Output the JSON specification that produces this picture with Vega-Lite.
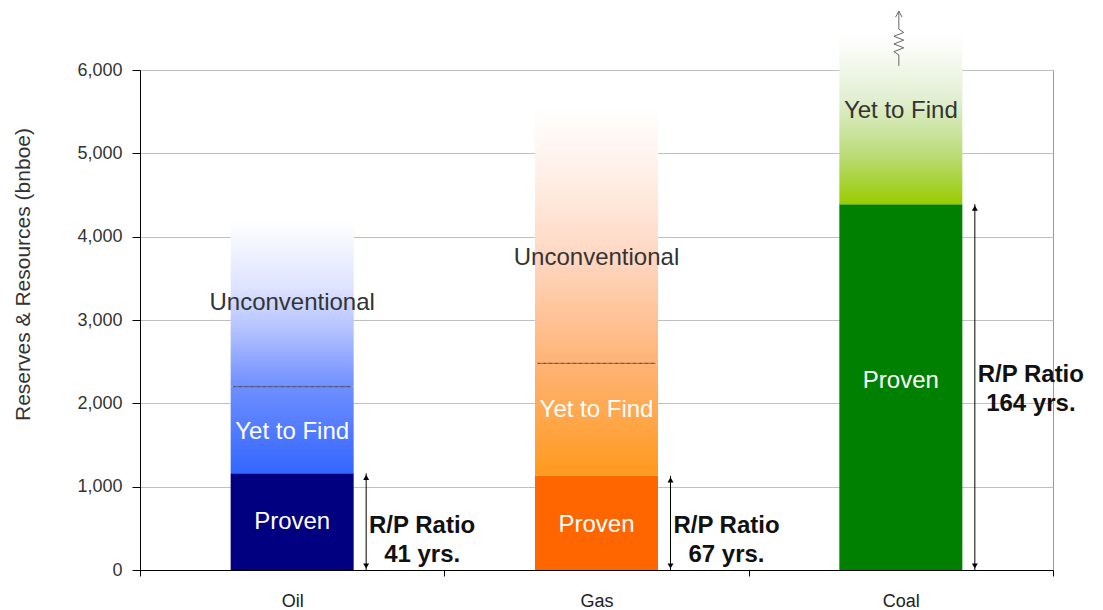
{
  "$schema": "https://vega.github.io/schema/vega-lite/v6.json",
  "width": 913,
  "height": 500,
  "autosize": {"type": "none"},
  "padding": {"left": 140, "top": 70, "right": 50, "bottom": 40},
  "background": "white",
  "config": {
    "font": "Liberation Sans",
    "view": {"stroke": "#999999", "strokeWidth": 1}
  },
  "datasets": {
    "bars": [
      {"fuel": "Oil", "part": "Proven", "lo": 0, "hi": 1160},
      {"fuel": "Oil", "part": "Yet to Find", "lo": 1160, "hi": 2200},
      {"fuel": "Oil", "part": "Unconventional", "lo": 2200, "hi": 4180},
      {"fuel": "Gas", "part": "Proven", "lo": 0, "hi": 1130},
      {"fuel": "Gas", "part": "Yet to Find", "lo": 1130, "hi": 2480},
      {"fuel": "Gas", "part": "Unconventional", "lo": 2480, "hi": 5550},
      {"fuel": "Coal", "part": "Proven", "lo": 0, "hi": 4390},
      {"fuel": "Coal", "part": "Yet to Find", "lo": 4390, "hi": 6450}
    ],
    "labels": [
      {"fuel": "Oil", "label": "Unconventional", "at": 3204},
      {"fuel": "Oil", "label": "Yet to Find", "at": 1656},
      {"fuel": "Oil", "label": "Proven", "at": 576},
      {"fuel": "Gas", "label": "Unconventional", "at": 3744},
      {"fuel": "Gas", "label": "Yet to Find", "at": 1920},
      {"fuel": "Gas", "label": "Proven", "at": 540},
      {"fuel": "Coal", "label": "Yet to Find", "at": 5508},
      {"fuel": "Coal", "label": "Proven", "at": 2268}
    ],
    "rp": [
      {"fuel": "Oil", "text": "R/P Ratio\n41 yrs.", "at": 534},
      {"fuel": "Gas", "text": "R/P Ratio\n67 yrs.", "at": 534},
      {"fuel": "Coal", "text": "R/P Ratio\n164 yrs.", "at": 2346}
    ]
  },
  "encoding": {
    "x": {
      "field": "fuel",
      "type": "nominal",
      "sort": ["Oil", "Gas", "Coal"],
      "scale": {"paddingInner": 0, "paddingOuter": 0},
      "axis": {
        "title": null,
        "labelAngle": 0,
        "labelFontSize": 18,
        "labelColor": "#222222",
        "labelPadding": 16,
        "tickSize": 6,
        "tickBand": "extent",
        "tickColor": "#000000",
        "domainColor": "#000000",
        "grid": false
      }
    }
  },
  "layer": [
    {
      "data": {"name": "bars"},
      "transform": [{"filter": "datum.part === 'Proven'"}],
      "mark": {"type": "bar", "size": 123},
      "encoding": {
        "y": {
          "field": "hi", "type": "quantitative",
          "scale": {"domain": [0, 6000], "nice": false},
          "title": "Reserves & Resources (bnboe)",
          "axis": {
            "values": [0, 1000, 2000, 3000, 4000, 5000, 6000],
            "format": ",d",
            "labelFontSize": 18,
            "labelColor": "#333333",
            "labelPadding": 10,
            "tickSize": 8,
            "tickColor": "#000000",
            "domainColor": "#000000",
            "gridColor": "#c0c0c0",
            "titleFontSize": 21,
            "titleFontWeight": "normal",
            "titleColor": "#333333",
            "titleX": -117,
            "titleY": 204,
            "titleAngle": -90,
            "titleAlign": "center",
            "titleBaseline": "middle"
          }
        },
        "y2": {"field": "lo"},
        "color": {
          "field": "fuel", "type": "nominal",
          "scale": {"domain": ["Oil", "Gas", "Coal"], "range": ["#000080", "#ff6600", "#008000"]},
          "legend": null
        }
      }
    },
    {
      "data": {"name": "bars"},
      "transform": [{"filter": "datum.fuel === 'Oil' && datum.part === 'Yet to Find'"}],
      "mark": {"type": "bar", "size": 123, "fill": {"gradient": "linear", "x1": 0, "y1": 1, "x2": 0, "y2": 0, "stops": [{"offset": 0, "color": "#3366ff"}, {"offset": 1, "color": "#6f8fff"}]}},
      "encoding": {
        "y": {"field": "hi", "type": "quantitative", "scale": {"domain": [0, 6000], "nice": false}, "title": "Reserves & Resources (bnboe)"},
        "y2": {"field": "lo"}
      }
    },
    {
      "data": {"name": "bars"},
      "transform": [{"filter": "datum.fuel === 'Oil' && datum.part === 'Unconventional'"}],
      "mark": {"type": "bar", "size": 123, "fill": {"gradient": "linear", "x1": 0, "y1": 1, "x2": 0, "y2": 0, "stops": [{"offset": 0, "color": "#6f8fff"}, {"offset": 0.35, "color": "#b4c2ff"}, {"offset": 0.6, "color": "#dde3ff"}, {"offset": 1, "color": "#ffffff"}]}},
      "encoding": {
        "y": {"field": "hi", "type": "quantitative", "scale": {"domain": [0, 6000], "nice": false}, "title": "Reserves & Resources (bnboe)"},
        "y2": {"field": "lo"}
      }
    },
    {
      "data": {"name": "bars"},
      "transform": [{"filter": "datum.fuel === 'Gas' && datum.part === 'Yet to Find'"}],
      "mark": {"type": "bar", "size": 123, "fill": {"gradient": "linear", "x1": 0, "y1": 1, "x2": 0, "y2": 0, "stops": [{"offset": 0, "color": "#ff9a1e"}, {"offset": 1, "color": "#ffb375"}]}},
      "encoding": {
        "y": {"field": "hi", "type": "quantitative", "scale": {"domain": [0, 6000], "nice": false}, "title": "Reserves & Resources (bnboe)"},
        "y2": {"field": "lo"}
      }
    },
    {
      "data": {"name": "bars"},
      "transform": [{"filter": "datum.fuel === 'Gas' && datum.part === 'Unconventional'"}],
      "mark": {"type": "bar", "size": 123, "fill": {"gradient": "linear", "x1": 0, "y1": 1, "x2": 0, "y2": 0, "stops": [{"offset": 0, "color": "#ffb375"}, {"offset": 0.4, "color": "#ffd6c0"}, {"offset": 0.75, "color": "#fff0e8"}, {"offset": 1, "color": "#ffffff"}]}},
      "encoding": {
        "y": {"field": "hi", "type": "quantitative", "scale": {"domain": [0, 6000], "nice": false}, "title": "Reserves & Resources (bnboe)"},
        "y2": {"field": "lo"}
      }
    },
    {
      "data": {"name": "bars"},
      "transform": [{"filter": "datum.fuel === 'Coal' && datum.part === 'Yet to Find'"}],
      "mark": {"type": "bar", "size": 123, "fill": {"gradient": "linear", "x1": 0, "y1": 1, "x2": 0, "y2": 0, "stops": [{"offset": 0, "color": "#99cc00"}, {"offset": 0.3, "color": "#bcdc7c"}, {"offset": 0.6, "color": "#e0eed0"}, {"offset": 0.92, "color": "#fbfdf9"}, {"offset": 1, "color": "#ffffff"}]}},
      "encoding": {
        "y": {"field": "hi", "type": "quantitative", "scale": {"domain": [0, 6000], "nice": false}, "title": "Reserves & Resources (bnboe)"},
        "y2": {"field": "lo"}
      }
    },
    {
      "data": {"name": "bars"},
      "transform": [{"filter": "datum.part === 'Unconventional'"}],
      "mark": {"type": "bar", "size": 118, "fill": null, "stroke": "#4a4a6a", "strokeWidth": 1, "strokeDash": [4, 2], "strokeOpacity": 0.8},
      "encoding": {
        "y": {"field": "lo", "type": "quantitative", "scale": {"domain": [0, 6000], "nice": false}, "title": "Reserves & Resources (bnboe)"},
        "y2": {"field": "lo"}
      }
    },
    {
      "data": {"name": "bars"},
      "transform": [{"filter": "datum.part === 'Proven'"}],
      "mark": {"type": "rule", "xOffset": 74, "color": "#000000", "strokeWidth": 1},
      "encoding": {
        "y": {"field": "hi", "type": "quantitative", "scale": {"domain": [0, 6000], "nice": false}, "title": "Reserves & Resources (bnboe)"},
        "y2": {"datum": 0}
      }
    },
    {
      "data": {"name": "bars"},
      "transform": [{"filter": "datum.part === 'Proven'"}],
      "mark": {"type": "point", "shape": "triangle-up", "filled": true, "size": 35, "opacity": 1, "color": "#000000", "xOffset": 74, "yOffset": 4},
      "encoding": {
        "y": {"field": "hi", "type": "quantitative", "scale": {"domain": [0, 6000], "nice": false}, "title": "Reserves & Resources (bnboe)"}
      }
    },
    {
      "data": {"name": "bars"},
      "transform": [{"filter": "datum.part === 'Proven'"}],
      "mark": {"type": "point", "shape": "triangle-down", "filled": true, "size": 35, "opacity": 1, "color": "#000000", "xOffset": 74, "yOffset": -4},
      "encoding": {
        "y": {"field": "lo", "type": "quantitative", "scale": {"domain": [0, 6000], "nice": false}, "title": "Reserves & Resources (bnboe)"}
      }
    },
    {
      "data": {"name": "bars"},
      "transform": [{"filter": "datum.fuel === 'Coal' && datum.part === 'Yet to Find'"}],
      "mark": {"type": "point", "shape": "M0,1 L0,0.6 L-0.18,0.48 L0.18,0.34 L-0.18,0.2 L0.18,0.06 L-0.18,-0.08 L0.18,-0.22 L0,-0.34 L0,-1 M-0.12,-0.78 L0,-1 L0.12,-0.78", "filled": false, "size": 3000, "opacity": 1, "stroke": "#666666", "strokeWidth": 1, "xOffset": -2, "yOffset": 6},
      "encoding": {
        "y": {"field": "hi", "type": "quantitative", "scale": {"domain": [0, 6000], "nice": false}, "title": "Reserves & Resources (bnboe)"}
      }
    },
    {
      "data": {"name": "labels"},
      "mark": {"type": "text", "fontSize": 24, "align": "center", "baseline": "middle"},
      "encoding": {
        "y": {"field": "at", "type": "quantitative", "scale": {"domain": [0, 6000], "nice": false}, "title": "Reserves & Resources (bnboe)"},
        "text": {"field": "label", "type": "nominal"},
        "color": {
          "condition": {"test": "datum.label === 'Unconventional' || (datum.fuel === 'Coal' && datum.label === 'Yet to Find')", "value": "#333333"},
          "value": "#ffffff"
        }
      }
    },
    {
      "data": {"name": "rp"},
      "mark": {"type": "text", "fontSize": 24, "fontWeight": "bold", "align": "center", "baseline": "middle", "lineBreak": "\n", "lineHeight": 29, "xOffset": 130, "color": "#111111"},
      "encoding": {
        "y": {"field": "at", "type": "quantitative", "scale": {"domain": [0, 6000], "nice": false}, "title": "Reserves & Resources (bnboe)"},
        "text": {"field": "text", "type": "nominal"}
      }
    }
  ]
}
